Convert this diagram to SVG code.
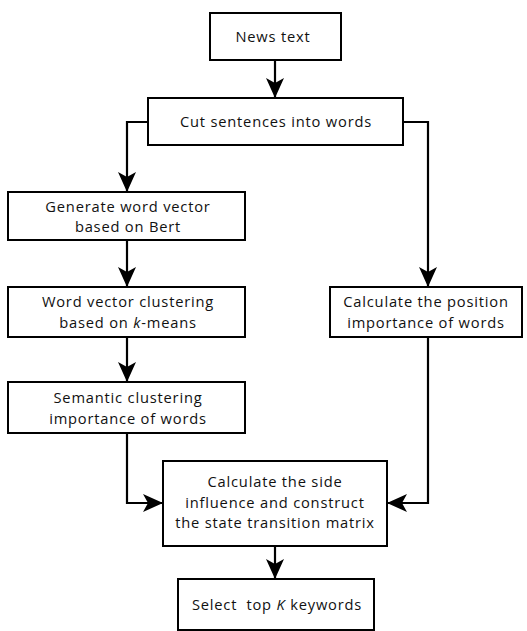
<svg xmlns="http://www.w3.org/2000/svg" width="527" height="631" viewBox="0 0 527 631">
<style>
rect.box{fill:#fff;stroke:#000;stroke-width:2}
text{font-family:"Open Sans","Noto Sans","Liberation Sans",sans-serif;font-size:14.7px;letter-spacing:0.8px;fill:#111;text-anchor:middle}
.conn{fill:none;stroke:#000;stroke-width:2.2}
</style>
<defs>
<marker id="arr" markerUnits="userSpaceOnUse" markerWidth="20" markerHeight="20" viewBox="0 0 20 20" refX="20" refY="10" orient="auto">
<path d="M0,1 L20,10 L0,19 L5,10 Z" fill="#000"/>
</marker>
</defs>
<rect width="527" height="631" fill="#fff"/>
<g id="connectors">
<path class="conn" d="M275,60 V98" marker-end="url(#arr)"/>
<path class="conn" d="M148,122 H127 V192" marker-end="url(#arr)"/>
<path class="conn" d="M403,122 H428 V287" marker-end="url(#arr)"/>
<path class="conn" d="M127,240 V287" marker-end="url(#arr)"/>
<path class="conn" d="M127,337 V382" marker-end="url(#arr)"/>
<path class="conn" d="M127,433 V503 H163" marker-end="url(#arr)"/>
<path class="conn" d="M428,337 V503 H387" marker-end="url(#arr)"/>
<path class="conn" d="M275,546 V579" marker-end="url(#arr)"/>
</g>
<g id="news">
<rect class="box" x="210" y="13" width="131" height="47"/>
<text x="273" y="42">News text</text>
</g>
<g id="cut">
<rect class="box" x="148" y="98" width="255" height="47"/>
<text x="276" y="127">Cut sentences into words</text>
</g>
<g id="bert">
<rect class="box" x="8" y="192" width="237" height="48"/>
<text x="128" y="211.8">Generate word vector</text>
<text x="128" y="232.1">based on Bert</text>
</g>
<g id="kmeans">
<rect class="box" x="8" y="287" width="237" height="50"/>
<text x="128" y="307.4">Word vector clustering</text>
<text x="128" y="327.7">based on <tspan font-style="italic">k</tspan>-means</text>
</g>
<g id="semantic">
<rect class="box" x="8" y="382" width="237" height="51"/>
<text x="128" y="403.3">Semantic clustering</text>
<text x="128" y="423.6">importance of words</text>
</g>
<g id="position">
<rect class="box" x="330" y="287" width="192" height="50"/>
<text x="426" y="307.4">Calculate the position</text>
<text x="426" y="327.7">importance of words</text>
</g>
<g id="side">
<rect class="box" x="163" y="461" width="224" height="85"/>
<text x="275" y="487.2">Calculate the side</text>
<text x="275" y="507.5">influence and construct</text>
<text x="275" y="527.8">the state transition matrix</text>
</g>
<g id="select">
<rect class="box" x="178" y="579" width="196" height="51"/>
<text x="277" y="610" xml:space="preserve">Select  top <tspan font-style="italic">K</tspan> keywords</text>
</g>
</svg>
